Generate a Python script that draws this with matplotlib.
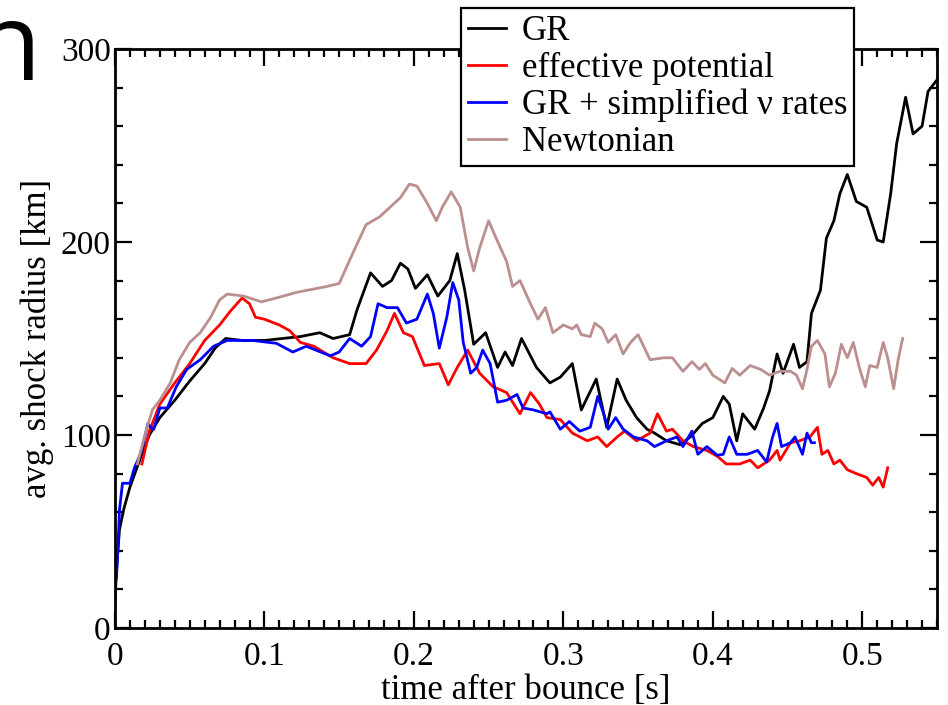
import matplotlib
matplotlib.use("Agg")
import matplotlib.pyplot as plt
from matplotlib.ticker import MultipleLocator

# time after bounce [s] / avg. shock radius [km]
gr_t = [0.000, 0.001, 0.003, 0.006, 0.010, 0.017, 0.023, 0.030, 0.040, 0.050,
        0.060, 0.067, 0.074, 0.085, 0.100, 0.112, 0.124, 0.137, 0.146, 0.157,
        0.162, 0.171, 0.179, 0.185, 0.191, 0.196, 0.201, 0.209, 0.216, 0.224,
        0.229, 0.234, 0.240, 0.248, 0.256, 0.261, 0.266, 0.272, 0.282, 0.291,
        0.298, 0.306, 0.312, 0.322, 0.329, 0.336, 0.342, 0.349, 0.356, 0.361,
        0.369, 0.378, 0.385, 0.393, 0.400, 0.407, 0.411, 0.416, 0.420, 0.428,
        0.434, 0.438, 0.443, 0.447, 0.454, 0.458, 0.463, 0.466, 0.472, 0.476,
        0.481, 0.485, 0.490, 0.496, 0.503, 0.510, 0.514, 0.519, 0.523, 0.529,
        0.534, 0.540, 0.544, 0.550]
gr_r = [13, 30, 51, 62, 73, 88, 100, 109, 118, 128,
        137, 145, 150, 149, 149, 150, 151, 153, 150, 152,
        165, 184, 177, 180, 189, 186, 176, 183, 172, 180,
        194, 175, 147, 153, 135, 143, 136, 150, 135, 127,
        130, 137, 113, 129, 104, 129, 118, 109, 103, 101,
        97, 95, 99, 106, 109, 120, 116, 97, 111, 103,
        114, 123, 142, 132, 147, 135, 138, 163, 175, 202,
        211, 225, 235, 221, 218, 201, 200, 225, 251, 275,
        256, 260, 278, 284]

ep_t = [0.018, 0.023, 0.030, 0.040, 0.050, 0.060, 0.070, 0.077, 0.085, 0.090,
        0.094, 0.100, 0.110, 0.117, 0.124, 0.133, 0.146, 0.157, 0.168, 0.175,
        0.182, 0.187, 0.193, 0.199, 0.207, 0.217, 0.223, 0.229, 0.236, 0.244,
        0.253, 0.262, 0.271, 0.278, 0.284, 0.289, 0.298, 0.306, 0.316, 0.323,
        0.329, 0.336, 0.341, 0.349, 0.358, 0.363, 0.369, 0.373, 0.380, 0.387,
        0.396, 0.403, 0.409, 0.418, 0.425, 0.430, 0.438, 0.443, 0.445, 0.452,
        0.458, 0.465, 0.470, 0.473, 0.477, 0.481, 0.485, 0.490, 0.496, 0.503,
        0.507, 0.511, 0.514, 0.517]
ep_r = [85, 102, 116, 127, 137, 149, 157, 164, 171, 168,
        161, 160, 157, 154, 148, 146, 140, 137, 137, 144,
        154, 163, 153, 151, 136, 137, 126, 135, 144, 132,
        125, 122, 111, 122, 116, 109, 108, 101, 97, 99,
        94, 99, 102, 97, 101, 111, 102, 103, 97, 94,
        92, 89, 85, 85, 87, 83, 87, 92, 87, 96,
        97, 99, 104, 90, 92, 85, 87, 82, 80, 78,
        74, 78, 73, 83]

sv_t = [0.001, 0.002, 0.003, 0.005, 0.010, 0.013, 0.017, 0.020, 0.022, 0.024,
        0.026, 0.030, 0.035, 0.041, 0.048, 0.057, 0.066, 0.075, 0.092, 0.108,
        0.119, 0.128, 0.144, 0.150, 0.157, 0.165, 0.171, 0.176, 0.182, 0.189,
        0.195, 0.202, 0.209, 0.213, 0.217, 0.222, 0.226, 0.230, 0.233, 0.238,
        0.242, 0.246, 0.251, 0.256, 0.262, 0.269, 0.273, 0.280, 0.289, 0.291,
        0.298, 0.304, 0.311, 0.318, 0.323, 0.327, 0.330, 0.335, 0.340, 0.347,
        0.356, 0.361, 0.369, 0.376, 0.380, 0.386, 0.390, 0.396, 0.403, 0.407,
        0.411, 0.416, 0.423, 0.430, 0.436, 0.440, 0.443, 0.446, 0.452, 0.455,
        0.460, 0.463, 0.466, 0.468]
sv_r = [26, 42, 61, 75, 75, 83, 90, 99, 106, 104,
        103, 114, 114, 125, 134, 139, 146, 149, 149, 147.5,
        143, 146, 141, 143, 150, 146, 151, 168, 166, 166,
        158, 160, 173, 163, 145, 161, 179, 170, 148, 132,
        135, 144, 137, 117, 118, 121, 114, 113, 111, 112,
        103, 107, 102, 104, 120, 111, 103, 109, 103, 99,
        97, 94, 97, 99, 94, 102, 90, 94, 89.5, 90,
        99, 90, 90, 92, 86, 99, 106, 94, 96, 99,
        90, 101, 96, 96]

nw_t = [0.015, 0.020, 0.025, 0.030, 0.037, 0.043, 0.050, 0.057, 0.064, 0.070,
        0.075, 0.086, 0.098, 0.108, 0.122, 0.142, 0.150, 0.159, 0.168, 0.177,
        0.184, 0.191, 0.197, 0.202, 0.209, 0.215, 0.219, 0.225, 0.231, 0.236,
        0.240, 0.244, 0.250, 0.255, 0.262, 0.266, 0.271, 0.278, 0.283, 0.288,
        0.293, 0.300, 0.306, 0.309, 0.312, 0.318, 0.321, 0.326, 0.330, 0.335,
        0.340, 0.345, 0.350, 0.358, 0.367, 0.373, 0.380, 0.386, 0.391, 0.395,
        0.400, 0.408, 0.413, 0.418, 0.425, 0.432, 0.438, 0.445, 0.452, 0.456,
        0.460, 0.463, 0.466, 0.470, 0.475, 0.478, 0.482, 0.486, 0.490, 0.494,
        0.498, 0.502, 0.505, 0.510, 0.514, 0.517, 0.521, 0.524, 0.527]
nw_r = [85, 100, 113, 118, 127, 139, 148, 153, 161, 170,
        173, 172, 169, 171, 174, 177, 178.5, 194, 209, 213,
        218, 223, 230, 229, 220, 211, 218, 226, 218, 197,
        185, 197, 211, 202, 190, 177, 180, 168, 160, 166,
        153, 157, 155, 157, 152, 151, 158, 155, 148, 152,
        142, 148, 152, 139, 140, 140, 133, 138, 134, 137,
        131, 127, 134.5, 131, 136, 134, 131, 133, 133, 131,
        124, 134, 146, 149, 142, 125, 132, 147, 140, 148,
        135, 125, 136, 135, 148, 140, 124, 139, 150]

labels = ["GR", "effective potential", "GR + simplified \u03bd rates", "Newtonian"]
colors = ["black", "red", "blue", "#bc8f8f"]

plt.rcParams["font.family"] = ["Liberation Serif", "DejaVu Serif"]

fig = plt.figure(figsize=(9.48, 7.05), dpi=100)
ax = fig.add_axes([0.1213, 0.1092, 0.8671, 0.8213])

series = [(gr_t, gr_r), (ep_t, ep_r), (sv_t, sv_r), (nw_t, nw_r)]
for (t, r), lab, c in zip(series, labels, colors):
    ax.plot(t, r, color=c, lw=2, label=lab)

ax.set_xlim(0, 0.55)
ax.set_ylim(0, 300)
ax.xaxis.set_major_locator(MultipleLocator(0.1))
ax.xaxis.set_minor_locator(MultipleLocator(0.01))
ax.yaxis.set_major_locator(MultipleLocator(100))
ax.yaxis.set_minor_locator(MultipleLocator(20))
ax.set_xticks([0, 0.1, 0.2, 0.3, 0.4, 0.5])
ax.set_xticklabels(["0", "0.1", "0.2", "0.3", "0.4", "0.5"])

ax.tick_params(which="both", direction="in", top=True, right=True, width=1.6, labelsize=24)
ax.tick_params(which="major", length=12)
ax.tick_params(which="minor", length=6)
ax.tick_params(axis="x", pad=10)
ax.tick_params(axis="y", pad=3)
for s in ax.spines.values():
    s.set_linewidth(2)

ax.set_xlabel("time after bounce [s]", fontsize=25, labelpad=1)
ax.set_ylabel("avg. shock radius [km]", fontsize=25, labelpad=5)

leg = ax.legend(loc="upper left", bbox_to_anchor=(0.4863, 0.9887), bbox_transform=fig.transFigure,
                fontsize=25, frameon=True, fancybox=False, framealpha=1, edgecolor="black",
                handlelength=1.1, handletextpad=0.45, labelspacing=0.11, borderpad=0.2,
                borderaxespad=0)
leg.get_frame().set_linewidth(1.6)

# cut-off slide title letter at the top left
fig.text(0.043, 0.8865, "n", fontsize=78, family="Open Sans", va="baseline", ha="right")

fig.savefig("out.png", dpi=100)
